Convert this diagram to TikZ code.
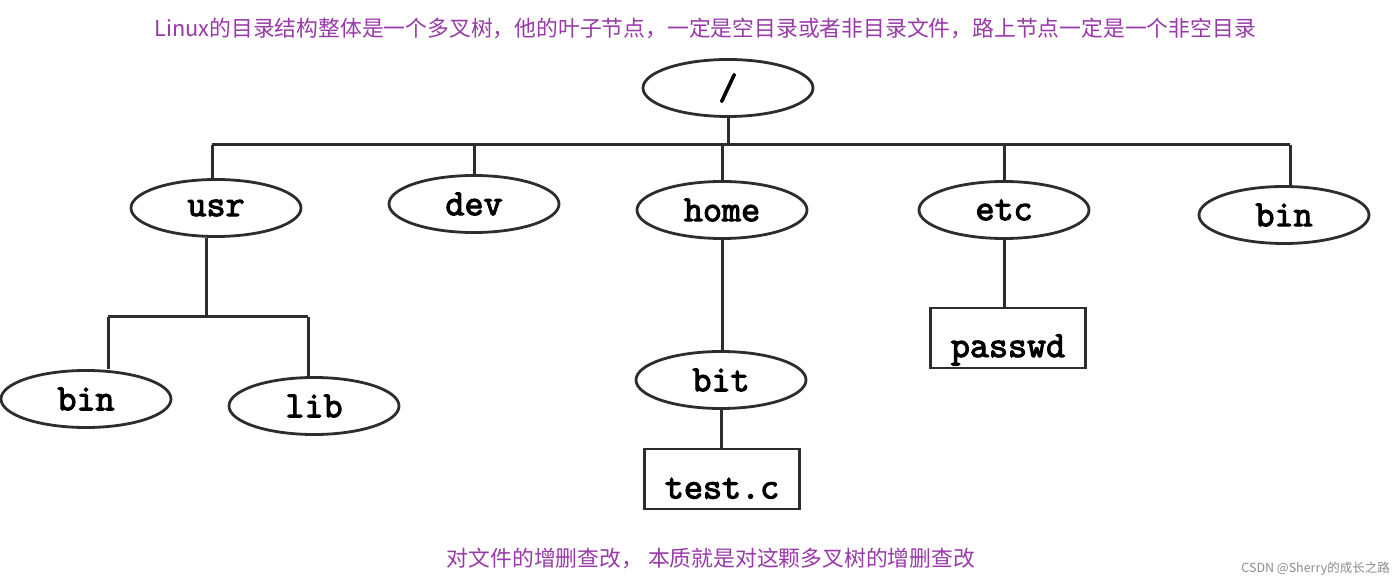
\documentclass[tikz,border=0pt]{standalone}
\usepackage{fontspec}
\newfontfamily\treefont[FakeBold=3]{Latin Modern Mono}
\newfontfamily\cjk{Noto Sans CJK SC}
\usetikzlibrary{shapes.geometric}
\definecolor{note}{RGB}{152,58,168}
\definecolor{edge}{RGB}{45,45,45}
\tikzset{
  dirnode/.style={ellipse, draw=edge, line width=2.8pt, fill=white, minimum width=170pt, minimum height=57pt, inner sep=0pt, font=\fontsize{37}{37}\selectfont\treefont},
  filenode/.style={rectangle, draw=edge, line width=2.8pt, fill=white, minimum width=155pt, minimum height=60pt, inner sep=0pt, font=\fontsize{37}{37}\selectfont\treefont},
  link/.style={draw=edge, line width=3pt},
  notetext/.style={text=note, font=\fontsize{21.8}{22}\selectfont\cjk, inner sep=0pt},
}
\begin{document}
\begin{tikzpicture}[x=1pt,y=-1pt]
\useasboundingbox (0,0) rectangle (1400,585);
\fill[white] (0,0) rectangle (1400,585);
\coordinate (barL) at (212,145);
\coordinate (barR) at (1290,145);
\coordinate (ubar) at (206,317);
\coordinate (ubarL) at (108,317);
\coordinate (ubarR) at (308,317);
% nodes
\node[dirnode] (root) at (728,88) {/};
\node[dirnode] (usr) at (216,208) {usr};
\node[dirnode] (dev) at (474,204) {dev};
\node[dirnode] (home) at (722,210) {home};
\node[dirnode] (etc) at (1004,210) {etc};
\node[dirnode] (bin) at (1284,215) {bin};
\node[dirnode] (ubin) at (86,399) {bin};
\node[dirnode] (lib) at (314,406) {lib};
\node[dirnode] (bit) at (721,380) {bit};
\node[filenode, text height=39pt, text depth=0pt] (test) at (722,479) {test.c};
\node[filenode, text height=46pt, text depth=8pt] (passwd) at (1008,338) {passwd};
% edges
\draw[link] (root.south) -- (root.south |- barL);
\draw[link] (barL) -- (barR);
\draw[link] (usr.north -| barL) -- (barL);
\draw[link] (dev.north) -- (dev.north |- barL);
\draw[link] (home.north) -- (home.north |- barL);
\draw[link] (etc.north) -- (etc.north |- barL);
\draw[link] (bin.north -| barR) -- (barR);
\draw[link] (usr.south -| ubar) -- (ubar);
\draw[link] (ubarL) -- (ubarR);
\draw[link] (ubarL) -- (ubarL |- ubin.north);
\draw[link] (ubarR) -- (ubarR |- lib.north);
\draw[link] (home.south) -- (bit.north -| home.south);
\draw[link] (bit.south) -- (test.north -| bit.south);
\draw[link] (etc.south) -- (passwd.north -| etc.south);
% notes
\node[notetext] (top) at (705,28) {Linux的目录结构整体是一个多叉树，他的叶子节点，一定是空目录或者非目录文件，路上节点一定是一个非空目录};
\node[notetext] (bottom) at (711,558) {对文件的增删查改， 本质就是对这颗多叉树的增删查改};
\node[text=black!45, font=\fontsize{12.5}{13}\selectfont\cjk, inner sep=0pt, anchor=east] (mark) at (1390,569) {CSDN @Sherry的成长之路};
\end{tikzpicture}
\end{document}
